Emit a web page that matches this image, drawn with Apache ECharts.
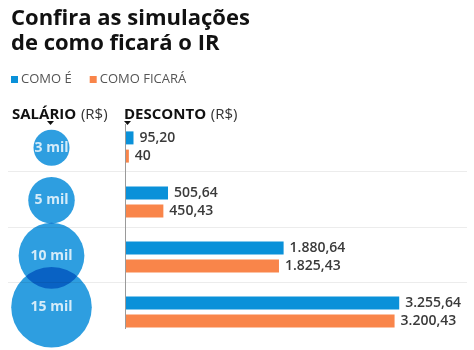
<!DOCTYPE html>
<html>
<head>
<meta charset="utf-8">
<script src="https://cdn.jsdelivr.net/npm/echarts@6/dist/echarts.min.js"></script>
<style>
html,body{margin:0;padding:0;background:#fff;}
#chart{width:474px;height:350px;}
</style>
</head>
<body>
<div id="chart"></div>
<script>
// ---- data ----
const categories = ['3 mil', '5 mil', '10 mil', '15 mil'];
const salaries = [3000, 5000, 10000, 15000];
const comoE = [95.20, 505.64, 1880.64, 3255.64];
const comoFicara = [40, 450.43, 1825.43, 3200.43];
const seriesNames = ['COMO É', 'COMO FICARÁ'];

// ---- helpers ----
function fmtBR(v) {
  const isInt = Math.abs(v - Math.round(v)) < 1e-9;
  let s = isInt ? String(Math.round(v)) : v.toFixed(2);
  let [ip, dp] = s.split('.');
  ip = ip.replace(/\B(?=(\d{3})+(?!\d))/g, '.');
  return dp ? ip + ',' + dp : ip;
}

const FONT = '"Open Sans", "Noto Sans", sans-serif';
const BLUE = '#0a91d9';
const ORANGE = '#f9854a';
const CIRCLE = '#2e9ee0';
const CIRCLE_X = 43.5;
const circleOffsets = [[0, 4], [0, 1], [0, 1], [0, -3]];

const chart = echarts.init(document.getElementById('chart'), null, {renderer: 'canvas'});

const barLabel = {
  show: true, position: 'right', distance: 6,
  fontFamily: FONT, fontSize: 14, fontWeight: 600, color: '#3a3a3a',
  formatter: p => fmtBR(p.value)
};

const headerRich = {
  b: {fontFamily: FONT, fontSize: 15, fontWeight: 'bold', color: '#111'},
  n: {fontFamily: FONT, fontSize: 15, fontWeight: 'normal', color: '#333'}
};

chart.setOption({
  animation: false,
  textStyle: {fontFamily: FONT},
  title: [
    {
      text: 'Confira as simulações\nde como ficará o IR',
      left: 6, top: 1,
      textStyle: {fontFamily: FONT, fontSize: 22, fontWeight: 'bold', color: '#111', lineHeight: 25}
    },
    {text: '{b|SALÁRIO} {n|(R$)}', left: 7, top: 101, textStyle: {rich: headerRich}},
    {text: '{b|DESCONTO} {n|(R$)}', left: 119, top: 101, textStyle: {rich: headerRich}}
  ],
  legend: {
    data: seriesNames,
    left: 6, top: 68,
    icon: 'rect', itemWidth: 7, itemHeight: 7, itemGap: 18,
    textStyle: {fontFamily: FONT, fontSize: 13, color: '#555', padding: [0, 0, 0, -2]}
  },
  grid: [
    {left: 8, right: 7, top: 116, height: 222},
    {left: 125.5, right: 8, top: 119.5, height: 220}
  ],
  xAxis: [
    {gridIndex: 0, type: 'value', min: 0, max: 459, show: false},
    {gridIndex: 1, type: 'value', min: 0, max: 4050, show: false}
  ],
  yAxis: [
    {gridIndex: 0, type: 'category', data: categories, inverse: true,
     axisLine: {show: false}, axisTick: {show: false}, axisLabel: {show: false},
     splitLine: {show: true, showMinLine: false, showMaxLine: false, lineStyle: {color: '#ececec'}}},
    {gridIndex: 1, type: 'category', data: categories, inverse: true,
     axisLine: {show: false}, axisTick: {show: false}, axisLabel: {show: false},
     splitLine: {show: false}}
  ],
  series: [
    {
      name: 'circles', type: 'scatter', xAxisIndex: 0, yAxisIndex: 0, z: 3,
      data: salaries.map((s, i) => ({value: [CIRCLE_X, categories[i], s], symbolOffset: circleOffsets[i]})),
      symbol: 'circle',
      symbolSize: d => 20.8 * Math.sqrt(d[2] / 1000),
      itemStyle: {color: CIRCLE, opacity: 1},
      blendMode: 'multiply',
      emphasis: {disabled: true},
      silent: true
    },
    {
      name: 'circleLabels', type: 'scatter', xAxisIndex: 0, yAxisIndex: 0, z: 4,
      data: salaries.map((s, i) => ({value: [CIRCLE_X, categories[i]], symbolOffset: circleOffsets[i]})),
      symbolSize: 1,
      itemStyle: {color: 'rgba(0,0,0,0)'},
      label: {show: true, position: 'inside', formatter: p => categories[p.dataIndex],
              fontFamily: FONT, fontSize: 14, fontWeight: 'bold', color: '#fff'},
      silent: true
    },
    {
      name: seriesNames[0], type: 'bar', xAxisIndex: 1, yAxisIndex: 1,
      data: comoE, barWidth: 13, barGap: '40%',
      itemStyle: {color: BLUE}, label: barLabel
    },
    {
      name: seriesNames[1], type: 'bar', xAxisIndex: 1, yAxisIndex: 1,
      data: comoFicara, barWidth: 13, barGap: '40%',
      itemStyle: {color: ORANGE}, label: barLabel
    }
  ],
  graphic: [
    {type: 'line', shape: {x1: 125.5, y1: 124, x2: 125.5, y2: 329}, style: {stroke: '#9a9a9a', lineWidth: 1}, z: 10},
    {type: 'polygon', shape: {points: [[47, 121], [54, 121], [50.5, 125]]}, style: {fill: '#111'}},
    {type: 'polygon', shape: {points: [[124, 121], [131, 121], [127.5, 125]]}, style: {fill: '#111'}}
  ]
});
</script>
</body>
</html>
